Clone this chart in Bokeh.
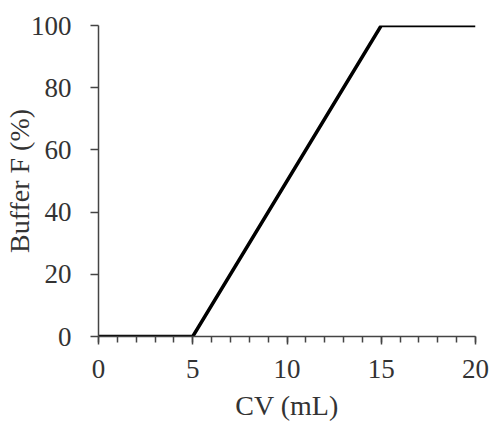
from bokeh.plotting import figure
from bokeh.models import Range1d, FixedTicker
from bokeh.embed import file_html
from bokeh.resources import INLINE

cv_ml = [0, 5, 15, 20]
buffer_f_pct = [0, 0, 100, 100]
x_ticks = [0, 5, 10, 15, 20]
x_minor = list(range(0, 21))
y_ticks = [0, 20, 40, 60, 80, 100]

p = figure(width=501, height=424, output_backend="svg", toolbar_location=None,
           x_range=Range1d(0, 20), y_range=Range1d(0, 100),
           min_border_left=98, min_border_right=26, min_border_top=25, min_border_bottom=88)
p.outline_line_color = None
p.xgrid.visible = False
p.ygrid.visible = False

p.line(cv_ml, buffer_f_pct, line_color="black", line_width=3.5)

font = "Liberation Serif"
p.xaxis.ticker = FixedTicker(ticks=x_ticks, minor_ticks=x_minor)
p.yaxis.ticker = FixedTicker(ticks=y_ticks, minor_ticks=[])
for ax in (p.xaxis[0], p.yaxis[0]):
    ax.axis_line_color = "#444444"
    ax.axis_line_width = 1.5
    ax.major_tick_line_color = "#444444"
    ax.major_tick_line_width = 1.5
    ax.minor_tick_line_color = "#444444"
    ax.minor_tick_line_width = 1.5
    ax.major_tick_in = 0
    ax.major_tick_out = 8
    ax.minor_tick_in = 0
    ax.minor_tick_out = 6
    ax.major_label_text_font = font
    ax.major_label_text_font_size = "27px"
    ax.major_label_text_color = "#333333"
    ax.axis_label_text_font = font
    ax.axis_label_text_font_size = "28px"
    ax.axis_label_text_font_style = "normal"
    ax.axis_label_text_color = "#333333"

p.xaxis.axis_label = "CV (mL)"
p.yaxis.axis_label = "Buffer F (%)"
p.xaxis.major_label_standoff = 15
p.yaxis.major_label_standoff = 19
p.xaxis.axis_label_standoff = 9
p.yaxis.axis_label_standoff = -7

open("out.html", "w").write(file_html(p, INLINE))
